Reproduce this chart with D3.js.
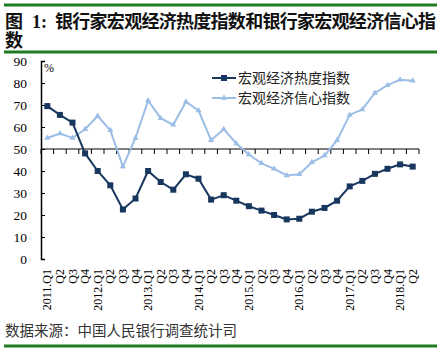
<!DOCTYPE html>
<html>
<head>
<meta charset="utf-8">
<script src="https://cdn.jsdelivr.net/npm/d3@7"></script>
<style>
  body { margin: 0; background: #fff; }
  svg { display: block; }
</style>
</head>
<body>
<svg id="chart" width="442" height="351"></svg>
<script>
// quarters 2011.Q1 .. 2018.Q2
const quarters = [
  "2011.Q1","Q2","Q3","Q4",
  "2012.Q1","Q2","Q3","Q4",
  "2013.Q1","Q2","Q3","Q4",
  "2014.Q1","Q2","Q3","Q4",
  "2015.Q1","Q2","Q3","Q4",
  "2016.Q1","Q2","Q3","Q4",
  "2017.Q1","Q2","Q3","Q4",
  "2018.Q1","Q2"
];

// 宏观经济热度指数
const heatIndex = [
  69.5, 65.5, 62, 48,
  40, 33.5, 22.5, 27.5,
  40, 35, 31.5, 38.5,
  36.5, 27, 29, 26.5,
  24, 22, 20, 18,
  18.3, 21.5, 23.2, 26.5,
  33, 35.5, 38.7, 41,
  43, 42
];

// 宏观经济信心指数
const confIndex = [
  55, 57, 55, 59,
  65, 58.5, 42, 55,
  72, 64, 61, 71.5,
  67.5, 54, 59, 52.5,
  47.5, 43.5, 41, 38,
  38.5, 44, 47, 54,
  65.5, 68, 75.5, 79,
  81.5, 81
];

const yTicks = [0, 10, 20, 30, 40, 50, 60, 70, 80, 90];

const seriesNames = ["宏观经济热度指数", "宏观经济信心指数"];
const colors = { heat: "#17375E", conf: "#9BBEE6", green: "#1E7B1E" };

const svg = d3.select("#chart");

// green rules
[5, 52, 346].forEach(y => {
  svg.append("line")
    .attr("x1", 4).attr("x2", 437)
    .attr("y1", y).attr("y2", y)
    .attr("stroke", colors.green)
    .attr("stroke-width", 3);
});

// title, in pieces so the spacing matches
const cjk = "'Noto Sans CJK SC', sans-serif";
svg.append("text")
  .attr("x", 5).attr("y", 28)
  .attr("font-family", cjk).attr("font-weight", "bold")
  .attr("font-size", 18).attr("fill", "#111")
  .text("图");
svg.append("text")
  .attr("x", 32).attr("y", 28)
  .attr("font-family", "'Liberation Serif', serif").attr("font-weight", "bold")
  .attr("font-size", 18).attr("fill", "#111")
  .text("1:");
svg.append("text")
  .attr("x", 55).attr("y", 28)
  .attr("font-family", cjk).attr("font-weight", "bold")
  .attr("font-size", 18).attr("fill", "#111")
  .attr("textLength", 381).attr("lengthAdjust", "spacing")
  .text("银行家宏观经济热度指数和银行家宏观经济信心指");
svg.append("text")
  .attr("x", 5).attr("y", 47)
  .attr("font-family", cjk).attr("font-weight", "bold")
  .attr("font-size", 18).attr("fill", "#111")
  .text("数");

// source
svg.append("text")
  .attr("x", 5).attr("y", 336)
  .attr("font-family", cjk)
  .attr("font-size", 14.5)
  .attr("fill", "#333")
  .text("数据来源：中国人民银行调查统计司");

// scales
const plot = { left: 41, right: 419, top: 61, bottom: 259 };

const x = d3.scaleBand()
  .domain(d3.range(quarters.length))
  .range([plot.left, plot.right]);

const y = d3.scaleLinear()
  .domain([0, 90])
  .range([plot.bottom, plot.top]);

// y axis
const yAxis = d3.axisRight(y)
  .tickValues(yTicks)
  .tickSize(4)
  .tickFormat("");
const gy = svg.append("g")
  .attr("transform", `translate(${plot.left},0)`)
  .call(yAxis);
gy.select(".domain").attr("stroke", "#000").attr("stroke-width", 1.5);
gy.selectAll(".tick line").attr("stroke", "#000");

svg.append("g").selectAll("text")
  .data(yTicks)
  .join("text")
  .attr("x", 27)
  .attr("y", d => y(d) + 4.5)
  .attr("text-anchor", "end")
  .attr("font-family", "'Liberation Serif', serif")
  .attr("font-size", 13.5)
  .attr("fill", "#000")
  .text(d => d);

svg.append("text")
  .attr("x", 44).attr("y", 72)
  .attr("font-family", "'Liberation Serif', serif")
  .attr("font-size", 12)
  .text("%");

// x axis at 50
const gx = svg.append("g")
  .attr("transform", `translate(0,${y(50)})`);
gx.append("line")
  .attr("x1", plot.left).attr("x2", plot.right)
  .attr("stroke", "#000").attr("stroke-width", 1.2);
gx.selectAll("line.tk")
  .data(d3.range(quarters.length + 1))
  .join("line")
  .attr("class", "tk")
  .attr("x1", i => plot.left + i * x.step())
  .attr("x2", i => plot.left + i * x.step())
  .attr("y1", 0).attr("y2", 5)
  .attr("stroke", "#000");

// x labels at bottom
svg.append("g").selectAll("text")
  .data(quarters)
  .join("text")
  .attr("transform", (d, i) =>
    `translate(${x(i) + x.bandwidth() / 2 + 4},269) rotate(-90)`)
  .attr("text-anchor", "end")
  .attr("font-family", "'Liberation Serif', serif")
  .attr("font-size", 12)
  .attr("fill", "#000")
  .text(d => d);

const cx = i => x(i) + x.bandwidth() / 2;
const line = d3.line().x((d, i) => cx(i)).y(d => y(d));

// confidence index (light, triangles)
svg.append("path")
  .datum(confIndex)
  .attr("d", line)
  .attr("fill", "none")
  .attr("stroke", colors.conf)
  .attr("stroke-width", 2);
const tri = d3.symbol().type(d3.symbolTriangle).size(16);
svg.append("g").selectAll("path")
  .data(confIndex)
  .join("path")
  .attr("d", tri)
  .attr("transform", (d, i) => `translate(${cx(i)},${y(d)})`)
  .attr("fill", colors.conf);

// heat index (dark, squares)
svg.append("path")
  .datum(heatIndex)
  .attr("d", line)
  .attr("fill", "none")
  .attr("stroke", colors.heat)
  .attr("stroke-width", 2);
svg.append("g").selectAll("rect")
  .data(heatIndex)
  .join("rect")
  .attr("x", (d, i) => cx(i) - 3)
  .attr("y", d => y(d) - 3)
  .attr("width", 6).attr("height", 6)
  .attr("fill", colors.heat);

// legend
const legend = svg.append("g");
const legendRows = [
  { name: seriesNames[0], color: colors.heat, marker: "square", yy: 78 },
  { name: seriesNames[1], color: colors.conf, marker: "triangle", yy: 98 }
];
legendRows.forEach(r => {
  legend.append("line")
    .attr("x1", 212).attr("x2", 236)
    .attr("y1", r.yy).attr("y2", r.yy)
    .attr("stroke", r.color).attr("stroke-width", 2);
  if (r.marker === "square") {
    legend.append("rect")
      .attr("x", 221).attr("y", r.yy - 3)
      .attr("width", 6).attr("height", 6)
      .attr("fill", r.color);
  } else {
    legend.append("path")
      .attr("d", tri)
      .attr("transform", `translate(224,${r.yy})`)
      .attr("fill", r.color);
  }
  legend.append("text")
    .attr("x", 238).attr("y", r.yy + 5)
    .attr("font-family", cjk)
    .attr("font-size", 14)
    .attr("fill", "#222")
    .text(r.name);
});
</script>
</body>
</html>
